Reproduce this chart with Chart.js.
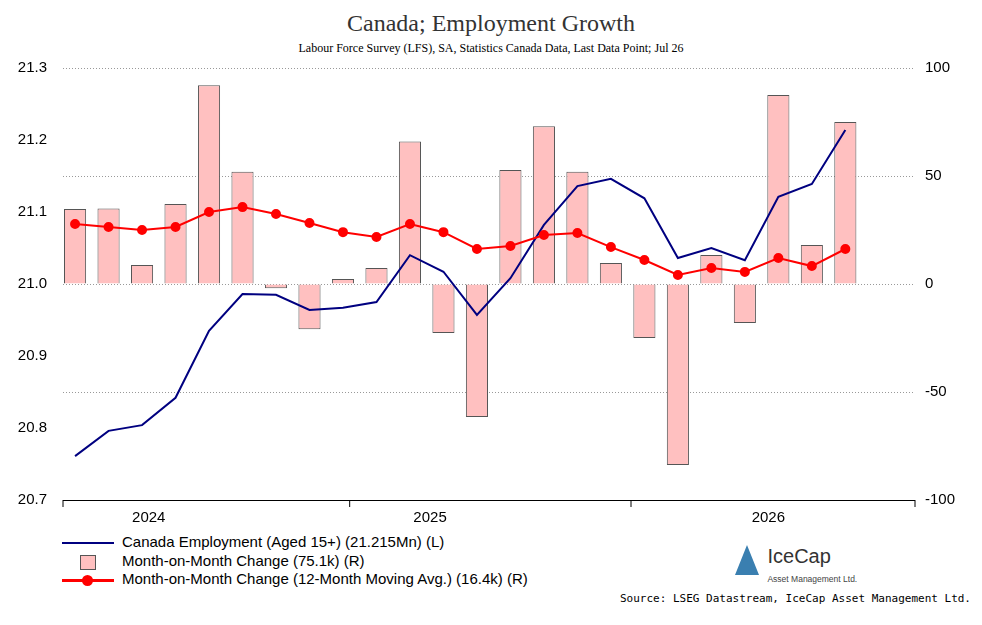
<!DOCTYPE html>
<html><head><meta charset="utf-8">
<script src="https://cdn.jsdelivr.net/npm/chart.js"></script>
<style>
body{margin:0;background:#fff;width:982px;height:625px;position:relative;overflow:hidden;font-family:"Liberation Sans",Arial,sans-serif}
#t{position:absolute;top:10px;width:982px;text-align:center;font-family:"Liberation Serif",serif;font-size:24px;color:#333}
#s{position:absolute;top:41px;width:982px;text-align:center;font-family:"Liberation Serif",serif;font-size:12px;color:#000}
#c{position:absolute;left:0;top:0}
.lg{position:absolute;left:62px;font-size:15px;color:#000;height:18px;line-height:18px}
.lg span{display:inline-block;vertical-align:middle;margin-right:8px}
#src{position:absolute;left:620px;top:592px;font-size:11px;color:#000;font-family:"DejaVu Sans Mono",monospace}
#logo{position:absolute;left:735px;top:545px;color:#444}
</style></head><body>
<div id="t">Canada; Employment Growth</div>
<div id="s">Labour Force Survey (LFS), SA, Statistics Canada Data, Last Data Point; Jul 26</div>
<canvas id="c" width="982" height="530"></canvas>
<div class="lg" style="top:533px"><span style="width:52px;height:2px;background:#000080"></span>Canada Employment (Aged 15+) (21.215Mn) (L)</div>
<div class="lg" style="top:552px"><span style="width:14px;height:13px;background:#FFC0C0;border:1px solid #555;margin-left:18px;margin-right:26px"></span>Month-on-Month Change (75.1k) (R)</div>
<div class="lg" style="top:570px"><span style="width:52px;height:3px;background:#f00;position:relative"><i style="position:absolute;left:20px;top:-4px;width:11px;height:11px;border-radius:50%;background:#f00"></i></span>Month-on-Month Change (12-Month Moving Avg.) (16.4k) (R)</div>
<div id="logo"><span style="display:inline-block;width:0;height:0;border-left:12px solid transparent;border-right:12px solid transparent;border-bottom:30px solid #3a7fb0;vertical-align:top"></span>
<span style="display:inline-block;vertical-align:top;margin-left:4px"><span style="font-size:20px;color:#333">IceCap</span><br><span style="font-size:8.5px">Asset Management Ltd.</span></span></div>
<div id="src">Source: LSEG Datastream, IceCap Asset Management Ltd.</div>
<script>
const months=["Aug 23","Sep 23","Oct 23","Nov 23","Dec 23","Jan 24","Feb 24","Mar 24","Apr 24","May 24","Jun 24","Jul 24","Aug 24","Sep 24","Oct 24","Nov 24","Dec 24","Jan 25","Feb 25","Mar 25","Apr 25","May 25","Jun 25","Jul 25"];
const yearLabels=[["2024",2.2],["2025",10.6],["2026",20.7]];
const yearSeparators=[8.2,16.6];
const employment=[20.761,20.796,20.804,20.842,20.935,20.986,20.985,20.964,20.967,20.975,21.040,21.017,20.957,21.008,21.082,21.136,21.146,21.119,21.036,21.050,21.033,21.121,21.139,21.214];
const momChange=[34.7,35,8.8,37,92,52,-2,-21,2.3,7.4,66,-22.7,-61.6,52.8,73,52,9.7,-25,-83.8,13.4,-18,87.5,18,75];
const movingAvg=[27.8,26.4,25,26.4,33.3,35.6,32.4,28.2,24,21.8,27.8,24,16.2,17.6,22.7,23.6,17.1,11.1,4.2,7.4,5.6,12,8.3,16.2];
const pts=a=>a.map((v,i)=>({x:i,y:v}));
const axisDeco={id:'axisDeco',afterDraw(c){const x=c.scales.x,y=c.chartArea.bottom,ctx=c.ctx;ctx.save();ctx.strokeStyle='#000';ctx.lineWidth=1;
 [x.left,...yearSeparators.map(v=>x.getPixelForValue(v)),x.right].forEach(p=>{ctx.beginPath();ctx.moveTo(p,y);ctx.lineTo(p,y+7);ctx.stroke();});
 ctx.beginPath();ctx.moveTo(x.left,y+0.5);ctx.lineTo(x.right,y+0.5);ctx.stroke();
 ctx.fillStyle='#000';ctx.font='15px "Liberation Sans"';ctx.textAlign='center';ctx.textBaseline='top';
 yearLabels.forEach(([t,v])=>ctx.fillText(t,x.getPixelForValue(v),y+10));ctx.restore();}};
new Chart(document.getElementById('c'),{
 data:{labels:months,datasets:[
  {type:'line',data:pts(employment),yAxisID:'yL',borderColor:'#000080',borderWidth:2,pointRadius:0,tension:0,order:1},
  {type:'line',data:pts(movingAvg),yAxisID:'yR',borderColor:'#ff0000',backgroundColor:'#ff0000',borderWidth:2,pointRadius:4,tension:0,order:0},
  {type:'bar',data:pts(momChange),yAxisID:'yR',backgroundColor:'#FFC0C0',borderColor:'#555',borderWidth:1,barPercentage:0.66,categoryPercentage:1,order:2}]},
 options:{responsive:false,animation:false,plugins:{legend:{display:false},tooltip:{enabled:false}},
  layout:{padding:{top:68,bottom:0,left:0,right:0}},
  scales:{
   x:{type:'linear',offset:false,min:-0.36,max:25.08,grid:{display:false,drawTicks:false},border:{display:false},
      ticks:{display:false},afterFit(s){s.height=30}},
   yL:{position:'left',min:20.7,max:21.3,afterFit(s){s.width=63},grid:{display:false},border:{display:false},
      ticks:{stepSize:0.1,color:'#000',font:{size:15},callback:v=>v.toFixed(1),padding:8}},
   yR:{position:'right',min:-100,max:100,afterFit(s){s.width=67},border:{display:false,dash:[1,2]},
      grid:{color:'#999',drawTicks:false},
      ticks:{stepSize:50,color:'#000',font:{size:15},padding:10}}}},
 plugins:[axisDeco]});
</script></body></html>
